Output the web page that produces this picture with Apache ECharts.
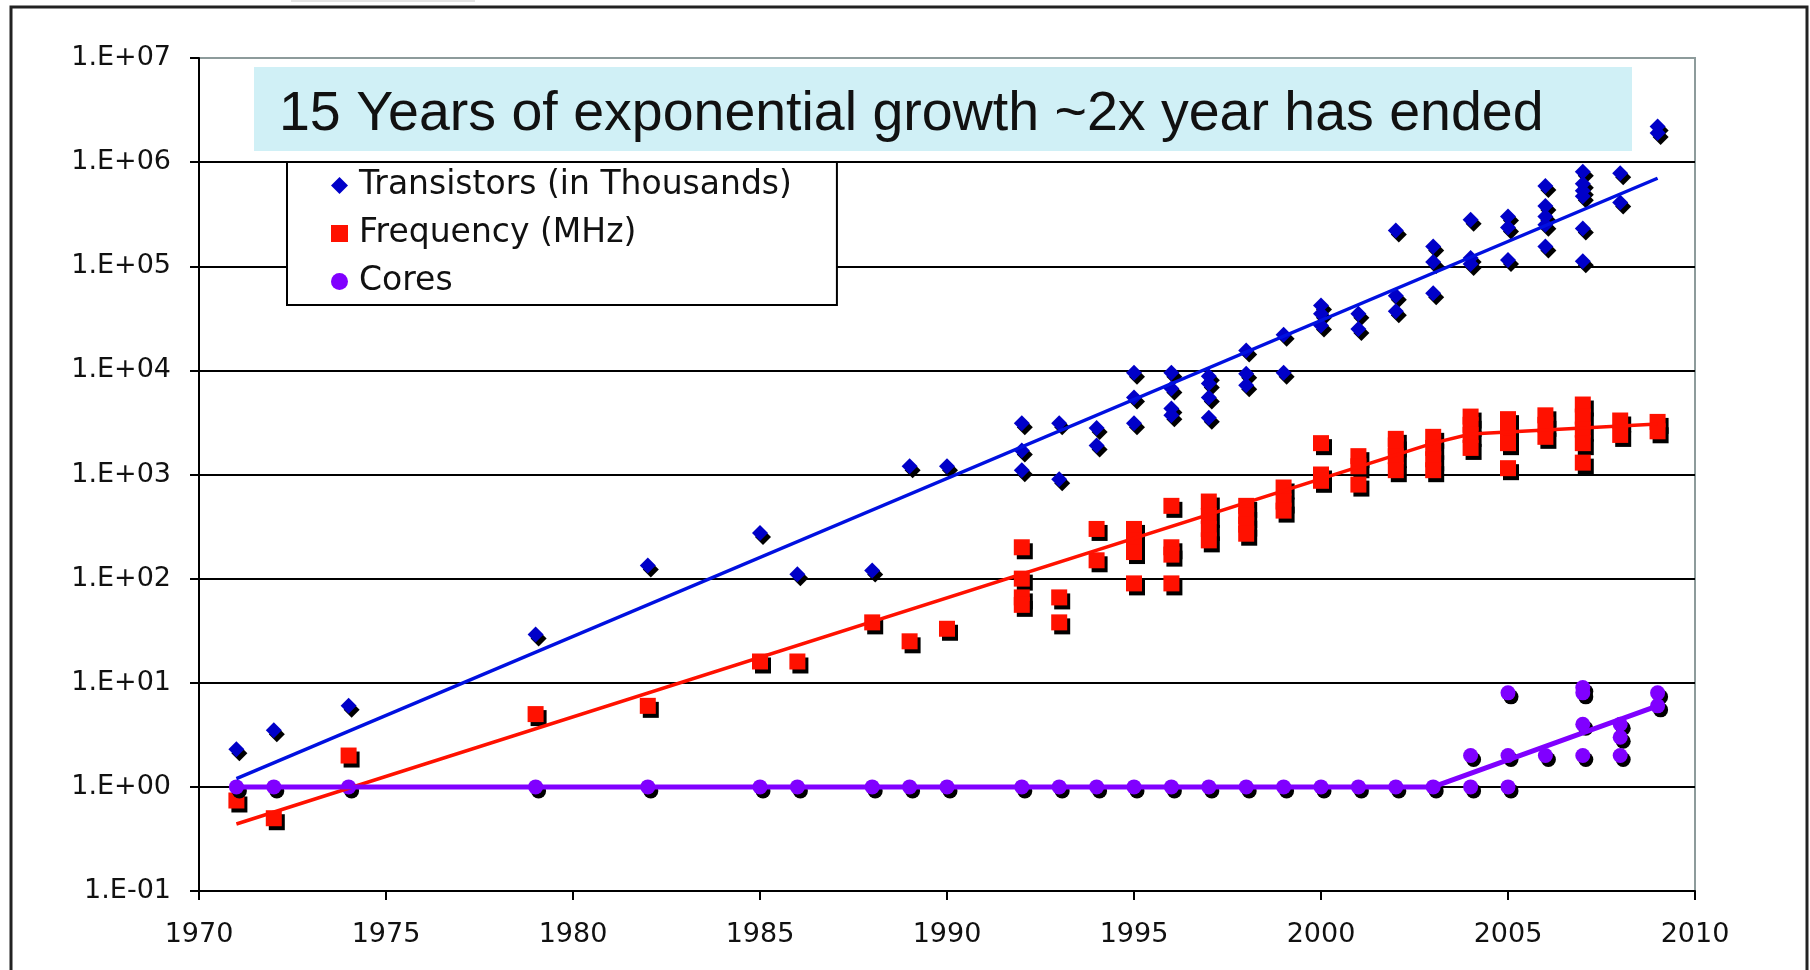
<!DOCTYPE html>
<html>
<head>
<meta charset="utf-8">
<title>15 Years of exponential growth</title>
<script src="https://cdn.jsdelivr.net/npm/echarts@6/dist/echarts.min.js"></script>
<style>
html, body { margin: 0; padding: 0; background: #fff; }
#main { width: 1810px; height: 970px; }
</style>
</head>
<body>
<div id="main"></div>
<script>
// transistors (in thousands)
var transYears = [1971, 1972, 1974, 1979, 1982, 1985, 1986, 1988, 1989, 1990,
    1992, 1992, 1992, 1993, 1993, 1994, 1994, 1995, 1995, 1995,
    1996, 1996, 1996, 1996, 1997, 1997, 1997, 1997, 1998, 1998, 1998,
    1999, 1999, 2000, 2000, 2000, 2001, 2001, 2002, 2002, 2002,
    2003, 2003, 2003, 2004, 2004, 2004, 2005, 2005, 2005,
    2006, 2006, 2006, 2006, 2006, 2007, 2007, 2007, 2007, 2007, 2007,
    2008, 2008, 2009, 2009];
var transValues = [2.3, 3.5, 6, 29, 134, 275, 110, 120, 1200, 1200,
    3100, 1700, 1100, 3100, 900, 2800, 1900, 9500, 5500, 3100,
    9500, 6700, 4300, 3700, 8800, 7500, 5500, 3500, 15500, 9300, 7200,
    22000, 9500, 42000, 35000, 27000, 35000, 25000, 220000, 52000, 37000,
    155000, 110000, 55000, 280000, 120000, 105000, 300000, 235000, 115000,
    590000, 380000, 300000, 250000, 155000, 810000, 620000, 530000, 470000, 230000, 112000,
    780000, 410000, 2200000, 1900000];

// clock frequency (MHz)
var freqYears = [1971, 1972, 1974, 1979, 1982, 1985, 1986, 1988, 1989, 1990,
    1992, 1992, 1992, 1992, 1993, 1993, 1994, 1994,
    1995, 1995, 1995, 1995, 1996, 1996, 1996, 1996,
    1997, 1997, 1997, 1997, 1998, 1998, 1998, 1998, 1999, 1999, 1999,
    2000, 2000, 2000, 2001, 2001, 2001, 2002, 2002, 2002, 2002,
    2003, 2003, 2003, 2003, 2004, 2004, 2004, 2004, 2005, 2005, 2005, 2005,
    2006, 2006, 2006, 2007, 2007, 2007, 2007, 2007, 2008, 2008, 2009, 2009];
var freqValues = [0.74, 0.5, 2, 5, 6, 16, 16, 38, 25, 33,
    200, 100, 66, 56, 66, 38, 300, 150,
    300, 233, 180, 90, 500, 200, 170, 90,
    550, 400, 300, 233, 500, 400, 330, 270, 750, 550, 450,
    2000, 1000, 870, 1500, 1200, 800, 2200, 1900, 1500, 1100,
    2300, 1800, 1400, 1100, 3600, 3000, 2400, 1800, 3400, 2800, 2000, 1150,
    3700, 3000, 2300, 4700, 3600, 2700, 2000, 1300, 3300, 2400, 3200, 2600];

// cores
var coreYears = [1971, 1972, 1974, 1979, 1982, 1985, 1986, 1988, 1989, 1990,
    1992, 1993, 1994, 1995, 1996, 1997, 1998, 1999, 2000, 2001, 2002, 2003,
    2004, 2004, 2005, 2005, 2005, 2006, 2007, 2007, 2007, 2007,
    2008, 2008, 2008, 2009, 2009];
var coreValues = [1, 1, 1, 1, 1, 1, 1, 1, 1, 1,
    1, 1, 1, 1, 1, 1, 1, 1, 1, 1, 1, 1,
    1, 2, 1, 2, 8, 2, 9, 8, 4, 2,
    4, 3, 2, 8, 6];

// trend lines
var transTrendYears = [1971, 2009];
var transTrendValues = [1.2, 700000];
var freqTrendYears = [1971, 2003, 2004, 2009];
var freqTrendValues = [0.44, 2000, 2450, 3050];
var coreTrendYears = [1971, 2003, 2009];
var coreTrendValues = [1, 1, 6];

var seriesNames = ['Transistors (in Thousands)', 'Frequency (MHz)', 'Cores'];
var xTickLabels = ['1970', '1975', '1980', '1985', '1990', '1995', '2000', '2005', '2010'];
var yTickLabels = ['1.E-01', '1.E+00', '1.E+01', '1.E+02', '1.E+03', '1.E+04', '1.E+05', '1.E+06', '1.E+07'];
var titleText = '15 Years of exponential growth ~2x year has ended';

function pairs(xs, ys) {
    return xs.map(function (x, i) { return [x, ys[i]]; });
}

function dotStyle(color) {
    return {
        color: color,
        opacity: 1,
        shadowColor: '#000',
        shadowBlur: 0,
        shadowOffsetX: 3,
        shadowOffsetY: 4
    };
}

var myChart = echarts.init(document.getElementById('main'));

var option = {
    animation: false,
    backgroundColor: '#fff',
    grid: {
        left: 199, right: 115, top: 58, bottom: 79,
        show: true,
        borderColor: '#8d9b9b',
        borderWidth: 2
    },
    legend: {
        data: seriesNames,
        orient: 'vertical',
        left: 287,
        top: 162,
        padding: [7, 45, 7, 44],
        itemGap: 15,
        itemWidth: 17,
        itemHeight: 17,
        backgroundColor: '#fff',
        borderColor: '#000',
        borderWidth: 2,
        borderRadius: 0,
        itemStyle: { opacity: 1, shadowColor: 'transparent', shadowBlur: 0, shadowOffsetX: 0, shadowOffsetY: 0 },
        textStyle: {
            fontFamily: 'DejaVu Sans',
            fontSize: 33,
            lineHeight: 33,
            color: '#111',
            padding: [0, 0, 0, 6]
        },
        selectedMode: false
    },
    xAxis: {
        type: 'value',
        min: 1970,
        max: 2010,
        interval: 5,
        axisLine: { show: true, lineStyle: { color: '#000', width: 2 } },
        axisTick: { show: true, length: 9, lineStyle: { color: '#000', width: 2 } },
        axisLabel: {
            margin: 30,
            fontFamily: 'DejaVu Sans',
            fontSize: 27,
            color: '#111',
            formatter: function (v) { return xTickLabels[Math.round((v - 1970) / 5)]; }
        },
        splitLine: { show: false }
    },
    yAxis: {
        type: 'log',
        logBase: 10,
        min: 0.1,
        max: 10000000,
        splitNumber: 8,
        axisLine: { show: true, lineStyle: { color: '#000', width: 2 } },
        axisTick: { show: true, length: 9, lineStyle: { color: '#000', width: 2 } },
        axisLabel: {
            margin: 28,
            fontFamily: 'DejaVu Sans',
            fontSize: 27,
            color: '#111',
            formatter: function (v) { return yTickLabels[Math.round(Math.log10(v)) + 1]; }
        },
        splitLine: { show: true, showMaxLine: false, lineStyle: { color: '#000', width: 2 } }
    },
    series: [
        {
            name: seriesNames[0],
            type: 'scatter',
            symbol: 'diamond',
            symbolSize: 16,
            itemStyle: dotStyle('#0000c8'),
            data: pairs(transYears, transValues),
            z: 2
        },
        {
            name: seriesNames[1],
            type: 'scatter',
            symbol: 'rect',
            symbolSize: 16,
            itemStyle: dotStyle('#ff1100'),
            data: pairs(freqYears, freqValues),
            z: 2
        },
        {
            name: seriesNames[2],
            type: 'scatter',
            symbol: 'circle',
            symbolSize: 15,
            itemStyle: dotStyle('#8000ff'),
            data: pairs(coreYears, coreValues),
            z: 2
        },
        {
            name: 'Transistors trend',
            type: 'line',
            showSymbol: false,
            silent: true,
            lineStyle: { color: '#0010e0', width: 3.5 },
            data: pairs(transTrendYears, transTrendValues),
            z: 3
        },
        {
            name: 'Frequency trend',
            type: 'line',
            showSymbol: false,
            silent: true,
            lineStyle: { color: '#ff1100', width: 3.5 },
            data: pairs(freqTrendYears, freqTrendValues),
            z: 3
        },
        {
            name: 'Cores trend',
            type: 'line',
            showSymbol: false,
            silent: true,
            lineStyle: { color: '#8000ff', width: 5 },
            data: pairs(coreTrendYears, coreTrendValues),
            z: 3
        }
    ],
    graphic: [
        {
            type: 'rect',
            shape: { x: 11, y: 7, width: 1796, height: 1000 },
            style: { fill: null, stroke: '#222', lineWidth: 3 },
            silent: true
        },
        {
            type: 'rect',
            shape: { x: 291, y: 0, width: 184, height: 2 },
            style: { fill: '#e4e4e4' },
            silent: true
        },
        {
            type: 'rect',
            shape: { x: 254, y: 67, width: 1378, height: 84 },
            style: { fill: '#d0f0f6' },
            z: 10,
            silent: true
        },
        {
            type: 'text',
            x: 279,
            y: 115,
            z: 11,
            silent: true,
            style: {
                text: titleText,
                fontFamily: 'Liberation Sans',
                fontSize: 55.5,
                fill: '#111',
                align: 'left',
                verticalAlign: 'middle'
            }
        }
    ]
};

myChart.setOption(option);
</script>
</body>
</html>
